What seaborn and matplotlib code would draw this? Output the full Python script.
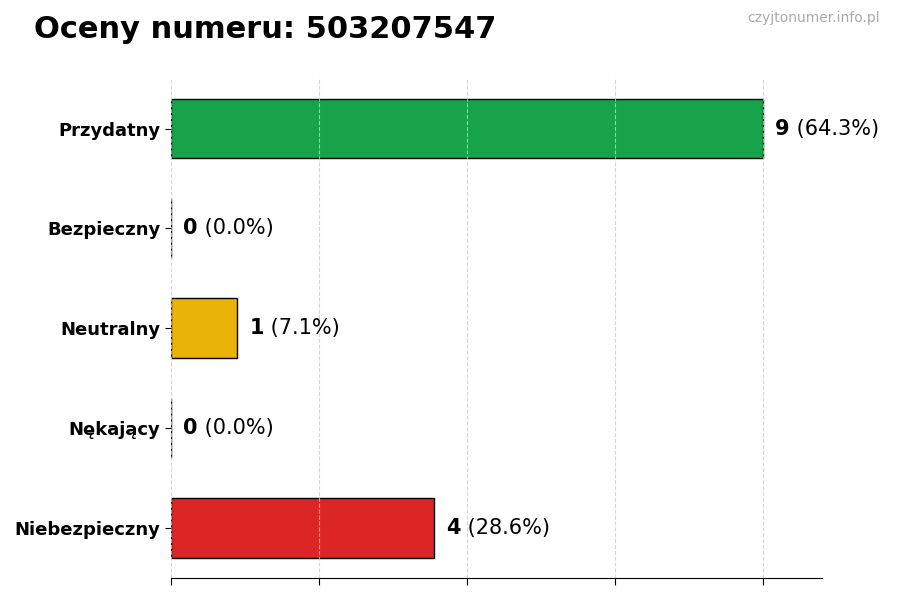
import numpy as np
import pandas as pd
import seaborn as sns
import matplotlib.pyplot as plt

# data
categories = ['Przydatny', 'Bezpieczny', 'Neutralny', 'Nękający', 'Niebezpieczny']
counts = [9, 0, 1, 0, 4]
colors = ['#16a34a', '#2563eb', '#eab308', '#f97316', '#dc2626']
phone = '503207547'

total = sum(counts)
df = pd.DataFrame({'category': categories, 'count': counts})

sns.set_style('white')
plt.rcParams['font.family'] = ['DejaVu Sans']
plt.rcParams['text.color'] = 'black'
plt.rcParams['ytick.color'] = 'black'
plt.rcParams['xtick.color'] = 'black'

fig = plt.figure(figsize=(9, 6), dpi=100)
ax = fig.add_axes([0.19, 0.037, 0.723, 0.832])

sns.barplot(data=df, x='count', y='category', hue='category', palette=colors,
            order=categories, hue_order=categories, orient='h', width=0.6,
            edgecolor='black', linewidth=1, saturation=1, legend=False, ax=ax)

xmax = max(counts) * 1.1
ax.set_xlim(0, xmax)
ax.set_xticks(np.linspace(0, max(counts), 5))
ax.set_xticklabels([])
ax.set_xlabel('')
ax.set_ylabel('')
ax.grid(axis='x', linestyle='--', color='#cccccc', linewidth=0.8, alpha=0.8)
ax.set_axisbelow(False)
ax.tick_params(axis='x', bottom=True, length=5, color='black')
ax.tick_params(axis='y', left=True, length=4, color='black', labelcolor='black')
for lbl in ax.get_yticklabels():
    lbl.set_fontweight('bold')
    lbl.set_fontsize(13)

for s in ['top', 'right', 'left']:
    ax.spines[s].set_visible(False)
ax.spines['bottom'].set_color('black')

# value labels
for i, c in enumerate(counts):
    pct = c / total * 100
    t = ax.annotate(f'{c}', xy=(c, i), xytext=(9, 0), textcoords='offset points',
                    va='center', ha='left', fontsize=15, fontweight='bold',
                    color='black')
    ax.annotate(f' ({pct:.1f}%)', xy=(1, 0.5), xycoords=t, va='center', ha='left',
                fontsize=15, color='black')

fig.text(0.038, 0.95, f'Oceny numeru: {phone}', fontsize=22, fontweight='bold',
         va='center', ha='left', color='black')
fig.text(0.978, 0.97, 'czyjtonumer.info.pl', fontsize=10, color='#aaaaaa',
         va='center', ha='right')

fig.savefig('out.png', dpi=100)
